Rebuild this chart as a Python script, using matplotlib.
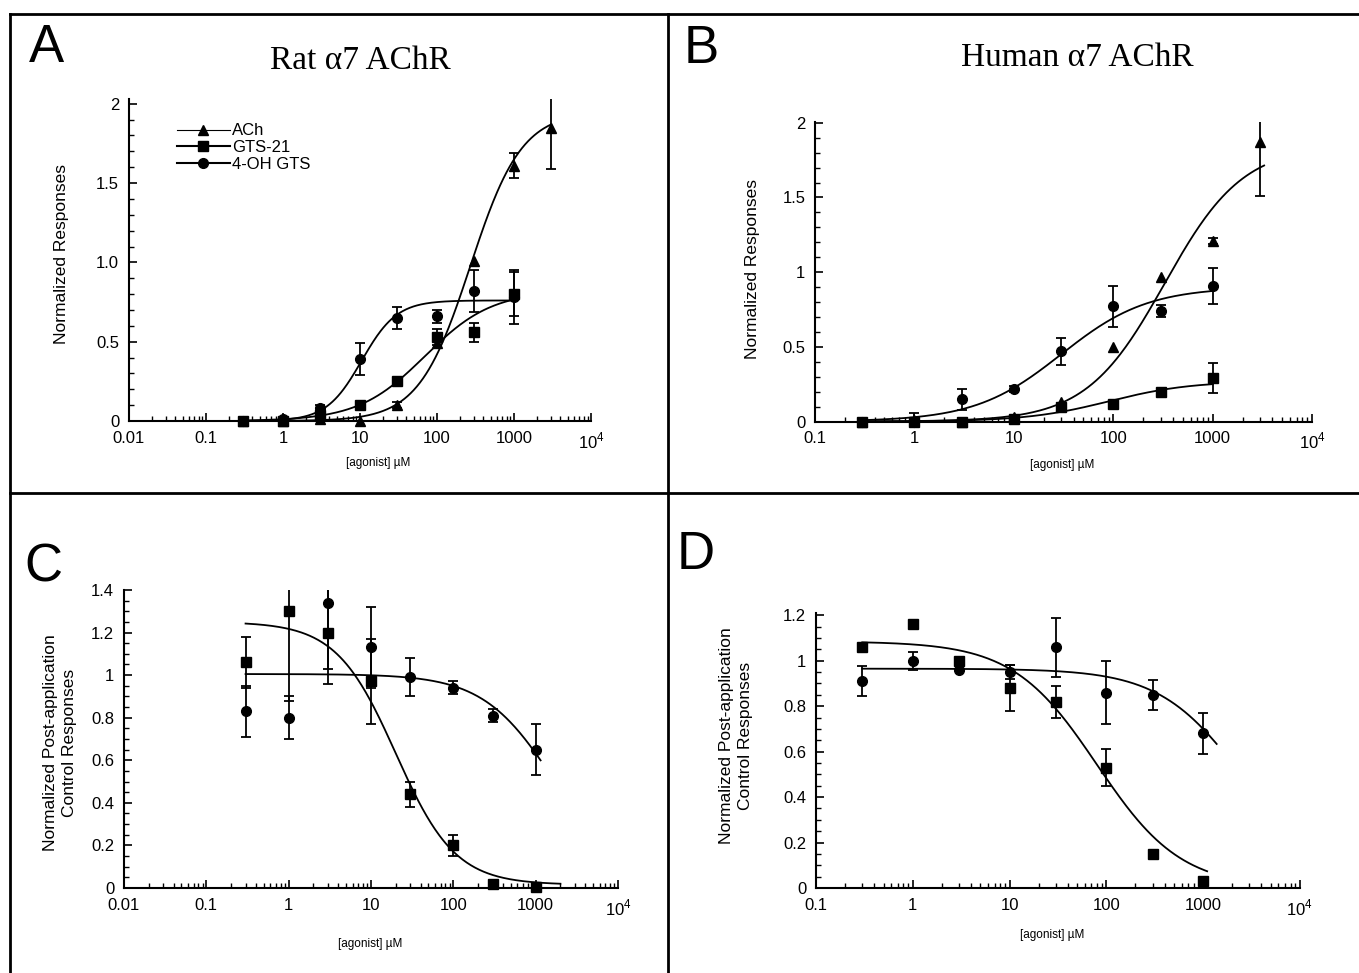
import numpy as np
import matplotlib
matplotlib.use('Agg')
import matplotlib.pyplot as plt
from matplotlib.lines import Line2D
from matplotlib.ticker import FixedLocator, FixedFormatter, LogLocator, MultipleLocator, NullFormatter

plt.rcParams['font.family'] = ['Liberation Sans', 'DejaVu Sans']
plt.rcParams['mathtext.fontset'] = 'custom'
plt.rcParams['mathtext.rm'] = 'Liberation Sans'

# ---- data ----
conc = [0.3, 1, 3, 10, 30, 100, 300, 1000]
conc_ach = [0.3, 1, 3, 10, 30, 100, 300, 1000, 3000]

# A: rat alpha7
ach_a = [0, 0, 0.01, 0.0, 0.10, 0.49, 1.01, 1.61, 1.85]
ach_a_err = [0, 0, 0, 0, 0.02, 0, 0, 0.08, 0.26]
gts_a = [0, 0, 0.04, 0.10, 0.25, 0.53, 0.56, 0.80]
gts_a_err = [0, 0, 0.02, 0.01, 0.02, 0.05, 0.06, 0.14]
oh_a = [0, 0.01, 0.08, 0.39, 0.65, 0.66, 0.82, 0.78]
oh_a_err = [0, 0, 0.02, 0.10, 0.07, 0.04, 0.13, 0.17]

# B: human alpha7
ach_b = [0, 0.01, 0, 0.03, 0.13, 0.50, 0.97, 1.21, 1.87]
ach_b_err = [0, 0.05, 0, 0, 0, 0, 0, 0.02, 0.36]
gts_b = [0, 0, 0, 0.02, 0.10, 0.12, 0.20, 0.29]
gts_b_err = [0, 0, 0, 0, 0.02, 0, 0, 0.10]
oh_b = [0, 0, 0.15, 0.22, 0.47, 0.77, 0.74, 0.91]
oh_b_err = [0, 0, 0.07, 0.02, 0.09, 0.14, 0.04, 0.12]

# C: rat post-application control
gts_c = [1.06, 1.30, 1.20, 0.97, 0.44, 0.20, 0.02, 0.005]
gts_c_err = [0.12, 0.42, 0.24, 0.20, 0.06, 0.05, 0, 0]
oh_c = [0.83, 0.80, 1.34, 1.13, 0.99, 0.94, 0.81, 0.65]
oh_c_err = [0.12, 0.10, 0.31, 0.19, 0.09, 0.03, 0.03, 0.12]

# D: human post-application control
gts_d = [1.06, 1.16, 1.00, 0.88, 0.82, 0.53, 0.15, 0.03]
gts_d_err = [0, 0, 0, 0.10, 0.07, 0.08, 0, 0]
oh_d = [0.91, 1.00, 0.96, 0.95, 1.06, 0.86, 0.85, 0.68]
oh_d_err = [0.065, 0.04, 0, 0.03, 0.13, 0.14, 0.065, 0.09]

# Hill fits: (top, bottom, ec50/ic50, n, x range)
fit_ach_a = (1.95, 0, 270, 1.3, (0.3, 3000))
fit_gts_a = (0.82, 0, 70, 1.0, (0.3, 1000))
fit_oh_a = (0.76, 0, 10.5, 1.9, (0.3, 1000))
fit_ach_b = (1.85, 0, 330, 1.1, (0.3, 3300))
fit_gts_b = (0.27, 0, 90, 1.05, (0.3, 1000))
fit_oh_b = (0.90, 0, 30, 1.0, (0.3, 1000))
fit_gts_c = (1.25, 0.015, 20, 1.2, (0.3, 2000))
fit_oh_c = (1.005, 0, 1700, 1.0, (0.3, 1150))
fit_gts_d = (1.085, 0, 80, 1.0, (0.3, 1100))
fit_oh_d = (0.965, 0, 2640, 1.0, (0.3, 1380))


def hill(x, fit, rising):
    top, bottom, k, n, _ = fit
    if rising:
        return bottom + (top - bottom) / (1 + (k / x) ** n)
    return bottom + (top - bottom) / (1 + (x / k) ** n)


def draw_series(ax, x, y, err, marker, fit, rising):
    x = np.array(x); y = np.array(y); err = np.array(err)
    m = err > 0
    ax.errorbar(x[m], y[m], yerr=err[m], fmt='none', ecolor='k',
                elinewidth=1.3, capsize=3.5, capthick=1.3)
    fx = np.logspace(np.log10(fit[4][0]), np.log10(fit[4][1]), 300)
    ax.plot(fx, hill(fx, fit, rising), color='k', lw=1.3)
    ax.plot(x, y, ls='none', marker=marker, ms=7, color='k', clip_on=False, zorder=5)


def style_axes(ax, xmin, ymax, ymajor, yminor, ylabels):
    ax.set_xscale('log')
    ax.set_xlim(xmin, 1e4)
    ax.set_ylim(0, ymax)
    for s in ['top', 'right']:
        ax.spines[s].set_visible(False)
    for s in ['left', 'bottom']:
        ax.spines[s].set_linewidth(1.5)
    dec = [10.0 ** k for k in range(int(round(np.log10(xmin))), 5)]
    names = {0.01: '0.01', 0.1: '0.1', 1: '1', 10: '10', 100: '100', 1000: '1000', 1e4: '10$^4$'}
    ax.xaxis.set_major_locator(FixedLocator(dec))
    ax.xaxis.set_major_formatter(FixedFormatter([names[d] for d in dec]))
    ax.xaxis.set_minor_locator(LogLocator(base=10, subs=np.arange(2, 10), numticks=20))
    ax.xaxis.set_minor_formatter(NullFormatter())
    ax.yaxis.set_major_locator(FixedLocator(ymajor))
    ax.yaxis.set_major_formatter(FixedFormatter(ylabels))
    ax.yaxis.set_minor_locator(MultipleLocator(yminor))
    ax.tick_params(which='major', direction='in', length=6, width=1.2, labelsize=12, pad=7)
    ax.tick_params(which='minor', direction='in', length=3.5, width=1.0)


fig = plt.figure(figsize=(13.59, 9.73), dpi=100)

axA = fig.add_axes([0.0949, 0.5673, 0.340, 0.331])
axB = fig.add_axes([0.5997, 0.5668, 0.3657, 0.3078])
axC = fig.add_axes([0.0912, 0.0874, 0.3635, 0.3063])
axD = fig.add_axes([0.6005, 0.0874, 0.3560, 0.2826])

# A
draw_series(axA, conc, gts_a, gts_a_err, 's', fit_gts_a, True)
draw_series(axA, conc, oh_a, oh_a_err, 'o', fit_oh_a, True)
draw_series(axA, conc_ach, ach_a, ach_a_err, '^', fit_ach_a, True)
style_axes(axA, 0.01, 2.03, [0, 0.5, 1.0, 1.5, 2], 0.1, ['0', '0.5', '1.0', '1.5', '2'])
handles = [Line2D([], [], color='k', lw=0.8, marker='^', ms=7),
           Line2D([], [], color='k', lw=1.5, marker='s', ms=7),
           Line2D([], [], color='k', lw=1.5, marker='o', ms=7)]
axA.legend(handles, ['ACh', 'GTS-21', '4-OH GTS'], loc='upper left',
           bbox_to_anchor=(0.085, 0.95), frameon=False, fontsize=12,
           handlelength=3.2, handletextpad=0.15, labelspacing=0.1, borderpad=0)

# B
draw_series(axB, conc, gts_b, gts_b_err, 's', fit_gts_b, True)
draw_series(axB, conc, oh_b, oh_b_err, 'o', fit_oh_b, True)
draw_series(axB, conc_ach, ach_b, ach_b_err, '^', fit_ach_b, True)
style_axes(axB, 0.1, 2.005, [0, 0.5, 1, 1.5, 2], 0.1, ['0', '0.5', '1', '1.5', '2'])

# C
draw_series(axC, conc, gts_c, gts_c_err, 's', fit_gts_c, False)
draw_series(axC, conc, oh_c, oh_c_err, 'o', fit_oh_c, False)
style_axes(axC, 0.01, 1.4, [0, 0.2, 0.4, 0.6, 0.8, 1, 1.2, 1.4], 0.05,
           ['0', '0.2', '0.4', '0.6', '0.8', '1', '1.2', '1.4'])

# D
draw_series(axD, conc, gts_d, gts_d_err, 's', fit_gts_d, False)
draw_series(axD, conc, oh_d, oh_d_err, 'o', fit_oh_d, False)
style_axes(axD, 0.1, 1.21, [0, 0.2, 0.4, 0.6, 0.8, 1, 1.2], 0.05,
           ['0', '0.2', '0.4', '0.6', '0.8', '1', '1.2'])

# axis labels
ylab_pos = {axA: (-0.145, 0.52), axB: (-0.125, 0.509), axC: (-0.130, 0.488), axD: (-0.165, 0.553)}
xlab_pos = {axA: (0.539, -0.13), axB: (0.497, -0.145), axC: (0.498, -0.187), axD: (0.488, -0.171)}
for ax in [axA, axB]:
    ax.set_ylabel('Normalized Responses', fontsize=12.5)
for ax in [axC, axD]:
    ax.set_ylabel('Normalized Post-application\nControl Responses', fontsize=12.5, linespacing=1.35)
for ax in [axA, axB, axC, axD]:
    ax.set_xlabel('[agonist] µM', fontsize=8.5)
    ax.yaxis.set_label_coords(*ylab_pos[ax])
    ax.yaxis.label.set_va('center')
    ax.xaxis.set_label_coords(*xlab_pos[ax])
    ax.xaxis.label.set_va('center')

# titles and panel letters
fig.text(0.265, 0.938, 'Rat α7 AChR', fontsize=24, family='Liberation Serif', ha='center', va='center')
fig.text(0.793, 0.941, 'Human α7 AChR', fontsize=24, family='Liberation Serif', ha='center', va='center')
for letter, (x, y) in zip('ABCD', [(0.034, 0.951), (0.516, 0.950), (0.032, 0.417), (0.512, 0.430)]):
    fig.text(x, y, letter, fontsize=38, ha='center', va='center')

# panel frame lines
for xs, ys in [([0.007, 1.0], [0.9856, 0.9856]), ([0.0074, 0.0074], [0.0, 0.9856]),
               ([0.4915, 0.4915], [0.0, 0.9856]), ([0.007, 1.0], [0.4933, 0.4933])]:
    fig.add_artist(Line2D(xs, ys, transform=fig.transFigure, color='k', lw=2))

fig.savefig('out.png', dpi=100)
